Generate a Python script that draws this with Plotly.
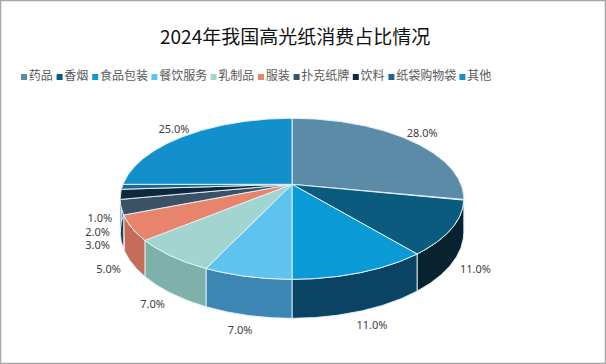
import numpy as np
import plotly.graph_objects as go

# ---- data ----
categories = ["药品", "香烟", "食品包装", "餐饮服务", "乳制品", "服装", "扑克纸牌", "饮料", "纸袋购物袋", "其他"]
shares = [28.0, 11.0, 11.0, 7.0, 7.0, 5.0, 3.0, 2.0, 1.0, 25.0]
title_text = "2024年我国高光纸消费占比情况"

# ---- styles ----
top_colors = ["#5c8ba8", "#0b5b7e", "#0a9ad6", "#5ec3ee", "#a2d5d0",
              "#e9846c", "#3b5264", "#10283a", "#1d6790", "#1190cc"]
side_colors = ["#3f6478", "#08232f", "#0a4363", "#3b86b3", "#7fb1ab",
               "#c66c58", "#2a3e4c", "#0a1c28", "#123a55", "#0d6a98"]

W, H = 606, 364
CX, CY = 292.0, 184.3      # apex of the pie on screen
A, K, M, D = 169.0, 77.9, 0.18, 32.0   # semi-width, depth scale, perspective, thickness


def proj(t, r=1.0, depth=0.0):
    X = r * np.sin(t)
    Z = r * np.cos(t)
    den = 1 + M * Z
    return CX + A * X / den, CY - K * Z / den + depth / den


fig = go.Figure()

total = float(sum(shares))
cum = np.concatenate([[0.0], np.cumsum(shares)]) / total
angles = cum * 2 * np.pi

# side walls (front half only)
for i, cat in enumerate(categories):
    a = max(angles[i], np.pi / 2)
    b = min(angles[i + 1], 3 * np.pi / 2)
    if a >= b:
        continue
    n = max(4, int(np.degrees(b - a) * 2))
    ts = np.linspace(a, b, n)
    xt, yt = proj(ts)
    xb, yb = proj(ts[::-1], depth=D)
    xs = np.concatenate([xt, xb, xt[:1]])
    ys = np.concatenate([yt, yb, yt[:1]])
    fig.add_trace(go.Scatter(x=xs, y=ys, mode="lines", fill="toself",
                             fillcolor=side_colors[i],
                             line=dict(color="rgba(225,242,250,0.9)", width=1),
                             hoverinfo="skip", showlegend=False))

# top faces
for i, cat in enumerate(categories):
    a, b = angles[i], angles[i + 1]
    n = max(4, int(np.degrees(b - a) * 2))
    ts = np.linspace(a, b, n)
    xa, ya = proj(ts)
    xs = np.concatenate([[CX], xa, [CX]])
    ys = np.concatenate([[CY], ya, [CY]])
    fig.add_trace(go.Scatter(x=xs, y=ys, mode="lines", fill="toself",
                             fillcolor=top_colors[i],
                             line=dict(color="rgba(225,242,250,0.95)", width=1),
                             name=cat, hoverinfo="skip", showlegend=False))

# data labels
lx, ly, lt = [], [], []
for i, v in enumerate(shares):
    mid = (angles[i] + angles[i + 1]) / 2
    Z = np.cos(mid)
    dep = D if Z < 0.15 else 0.0
    x, y = proj(mid, r=1.13, depth=dep)
    lx.append(float(x)); ly.append(float(y)); lt.append(f"{v:.1f}%")

# push apart crowded labels on the left side (downwards)
left = sorted([i for i in range(len(lx)) if lx[i] < CX and ly[i] > CY - 20],
              key=lambda i: ly[i])
for j in range(1, len(left)):
    prev, cur = left[j - 1], left[j]
    if ly[cur] - ly[prev] < 13.5:
        ly[cur] = ly[prev] + 13.5

fig.add_trace(go.Scatter(x=lx, y=ly, mode="text", text=lt,
                         textfont=dict(family="Noto Sans, Liberation Sans, sans-serif",
                                       size=11, color="#404040"),
                         hoverinfo="skip", showlegend=False))

# custom legend (horizontal row)
leg_x = []
x = 24.0
for cat in categories:
    leg_x.append(x)
    x += 12.0 + 11.8 * len(cat)
fig.add_trace(go.Scatter(x=leg_x, y=[77] * len(categories), mode="markers+text",
                         marker=dict(symbol="square", size=6, color=top_colors),
                         text=categories, textposition="middle right",
                         textfont=dict(family="Noto Sans CJK SC, sans-serif",
                                       size=12, color="#595959"),
                         hoverinfo="skip", showlegend=False))

fig.update_layout(
    width=W, height=H,
    margin=dict(l=0, r=0, t=0, b=0),
    paper_bgcolor="white", plot_bgcolor="white",
    xaxis=dict(range=[0, W], visible=False, fixedrange=True),
    yaxis=dict(range=[H, 0], visible=False, fixedrange=True),
    showlegend=False,
    annotations=[dict(x=295, y=35, xref="x", yref="y", text=title_text,
                      showarrow=False,
                      font=dict(family="Noto Sans CJK SC, sans-serif",
                                size=19, color="#111111"))],
    shapes=[dict(type="rect", xref="paper", yref="paper", x0=0, y0=0, x1=1, y1=1,
                 line=dict(color="#a6a6a6", width=2.5))],
)

fig.write_html("out.html", config={"displayModeBar": False},
               post_script="document.body.style.margin='0';document.body.style.overflow='hidden';")
